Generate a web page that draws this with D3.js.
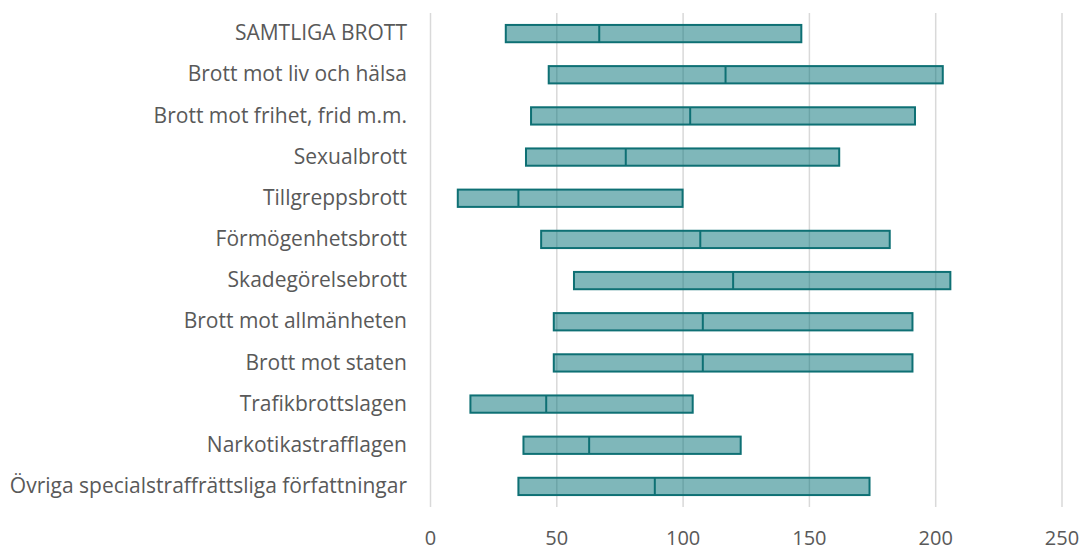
<!DOCTYPE html>
<html lang="sv">
<head>
<meta charset="utf-8">
<title>Brott</title>
<style>
  body { margin: 0; background: #fff; }
  svg { display: block; }
  .tick text { fill: #595959; font-family: "Open Sans", sans-serif; }
  .ylab .tick text { font-size: 21px; }
  .xlab .tick text { font-size: 20px; }
  .grid line { stroke: #d9d9d9; stroke-width: 1.5px; }
  .domain { display: none; }
</style>
</head>
<body>
<svg width="1082" height="550"></svg>
<script src="https://cdn.jsdelivr.net/npm/d3@7"></script>
<script>
  const categories = [
    "SAMTLIGA BROTT",
    "Brott mot liv och hälsa",
    "Brott mot frihet, frid m.m.",
    "Sexualbrott",
    "Tillgreppsbrott",
    "Förmögenhetsbrott",
    "Skadegörelsebrott",
    "Brott mot allmänheten",
    "Brott mot staten",
    "Trafikbrottslagen",
    "Narkotikastrafflagen",
    "Övriga specialstraffrättsliga författningar"
  ];
  const lowValues    = [30, 47, 40, 38, 11, 44, 57, 49, 49, 16, 37, 35];
  const medianValues = [67, 117, 103, 77.5, 35, 107, 120, 108, 108, 46, 63, 89];
  const highValues   = [147, 203, 192, 162, 100, 182, 206, 191, 191, 104, 123, 174];
  const xTicks = [0, 50, 100, 150, 200, 250];

  const margin = {top: 13, right: 20.5, bottom: 43, left: 430};
  const svg = d3.select("svg");
  const width = +svg.attr("width") - margin.left - margin.right;
  const height = +svg.attr("height") - margin.top - margin.bottom;

  const vis = svg.append("g")
    .attr("transform", `translate(${margin.left},${margin.top})`);

  const x = d3.scaleLinear().domain([0, 250]).range([0, width]);
  const y = d3.scaleBand().domain(categories).range([0, height]).paddingInner(0.58).paddingOuter(0.29);

  // vertical gridlines
  vis.append("g")
    .attr("class", "grid")
    .call(d3.axisBottom(x).tickValues(xTicks).tickSize(height).tickFormat(""));

  // x tick labels
  vis.append("g")
    .attr("class", "xlab")
    .attr("transform", `translate(0,${height})`)
    .call(d3.axisBottom(x).tickValues(xTicks).tickSize(0).tickPadding(24));

  // category labels
  vis.append("g")
    .attr("class", "ylab")
    .call(d3.axisLeft(y).tickSize(0).tickPadding(23));

  const rows = categories.map((c, i) => ({
    name: c, low: lowValues[i], median: medianValues[i], high: highValues[i]
  }));

  const bars = vis.append("g").selectAll("g")
    .data(rows)
    .enter()
    .append("g");

  bars.append("rect")
    .attr("x", d => x(d.low))
    .attr("y", d => y(d.name))
    .attr("width", d => x(d.high) - x(d.low))
    .attr("height", y.bandwidth())
    .attr("fill", "rgba(0,112,117,0.5)")
    .attr("stroke", "#0e7074")
    .attr("stroke-width", 2);

  bars.append("line")
    .attr("x1", d => x(d.median))
    .attr("x2", d => x(d.median))
    .attr("y1", d => y(d.name))
    .attr("y2", d => y(d.name) + y.bandwidth())
    .attr("stroke", "#0e7074")
    .attr("stroke-width", 2);
</script>
</body>
</html>
